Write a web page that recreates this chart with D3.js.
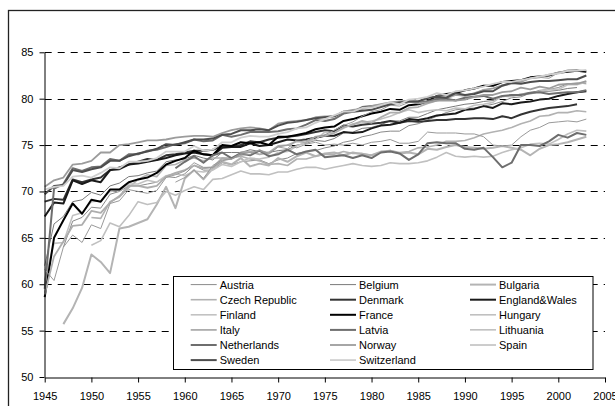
<!DOCTYPE html>
<html>
<head>
<meta charset="utf-8">
<script src="https://cdn.jsdelivr.net/npm/d3@7"></script>
<style>
  html, body { margin: 0; padding: 0; background: #fff; }
  svg { display: block; font-family: "Liberation Sans", Arial, Helvetica, sans-serif; }
</style>
</head>
<body>
<svg id="chart" width="615" height="406"></svg>
<script>
// ---------- data ----------
const countries = ["Austria","Belgium","Bulgaria","Czech Republic","Denmark","England&Wales",
  "Finland","France","Hungary","Italy","Latvia","Lithuania","Netherlands","Norway","Spain",
  "Sweden","Switzerland"];
const startYears = [1947,1945,1947,1950,1945,1945,1945,1945,1950,1945,1959,1959,1945,1945,1945,1945,1945];
const xTicks = [1945,1950,1955,1960,1965,1970,1975,1980,1985,1990,1995,2000,2005];
const yTicks = [50,55,60,65,70,75,80,85];

const austria = [64.0,66.8,67.2,68.3,68.2,69.7,70.0,70.6,70.6,70.8,71.0,71.6,71.5,71.9,72.8,72.3,72.3,73.1,72.9,73.2,73.3,73.4,73.0,73.4,73.6,74.1,74.3,74.4,74.7,74.9,75.3,75.5,75.9,76.1,76.4,76.5,76.5,77.1,77.3,77.7,78.1,78.5,78.8,78.9,79.0,79.2,79.4,79.7,80.1,80.2,80.6,80.9,81.0,81.2,81.6,81.7,81.6];
const belgium = [62.0,66.5,67.3,68.9,69.1,69.9,69.6,70.6,70.9,71.6,71.7,72.0,72.2,73.2,73.4,73.5,73.9,73.6,73.4,74.2,74.2,74.2,74.5,74.3,74.2,74.4,74.5,75.0,75.2,75.5,75.4,75.7,76.3,76.4,76.8,76.9,77.2,77.6,77.6,78.0,78.0,78.4,78.8,79.0,79.2,79.4,79.5,79.7,79.8,80.2,80.3,80.5,80.7,80.8,80.8,80.9,81.1,81.2];
const bulgaria = [55.7,57.4,59.6,63.2,62.4,61.2,66.0,66.2,66.6,67.0,68.6,70.5,68.2,71.4,72.3,71.3,72.5,73.2,72.9,73.6,72.7,73.0,72.8,73.6,73.2,73.8,74.2,73.8,74.1,74.2,73.9,74.2,74.0,73.9,74.3,74.4,74.1,74.2,74.0,74.6,74.5,74.8,75.0,74.8,74.7,74.6,74.7,74.9,74.7,74.5,73.9,74.6,75.0,75.1,75.3,75.6,75.9];
const czech = [67.2,67.1,68.9,69.4,70.4,71.3,71.8,71.6,72.8,72.9,73.4,73.6,73.3,73.6,73.6,73.6,73.8,73.5,73.3,72.9,73.0,72.8,73.5,73.5,73.8,74.0,74.0,74.3,74.1,74.1,73.9,74.2,74.4,74.2,74.3,74.7,74.8,75.0,75.4,75.4,75.5,75.8,76.2,76.4,76.6,76.9,77.3,77.6,78.1,78.2,78.5,78.5,78.7,78.6];
const denmark = [68.9,69.2,69.1,71.3,71.0,71.3,71.5,72.3,72.6,72.9,73.2,73.5,73.4,73.9,74.0,74.2,74.4,74.4,74.5,74.9,74.8,75.0,75.4,75.3,75.6,75.8,75.9,76.0,76.2,76.4,76.6,76.5,77.1,77.0,77.2,77.3,77.4,77.6,77.4,77.6,77.5,77.6,77.7,77.7,77.8,77.8,77.9,77.9,77.8,78.1,77.9,78.3,78.6,78.8,79.0,79.1,79.2,79.4];
const englandWales = [67.3,68.8,68.7,71.2,70.8,71.2,71.0,72.3,72.4,72.9,73.0,73.2,73.4,73.6,73.9,74.1,74.2,74.0,73.9,74.7,74.8,74.8,75.2,74.9,75.0,75.3,75.6,75.5,75.6,75.8,76.0,76.0,76.4,76.3,76.4,76.8,77.1,77.2,77.4,77.8,77.7,77.9,78.2,78.3,78.4,78.8,78.9,79.2,79.0,79.5,79.4,79.6,79.7,79.9,80.0,80.3,80.5,80.7,80.8];
const finland = [60.4,64.4,64.5,67.4,67.7,68.9,69.0,70.0,70.1,70.8,70.8,71.2,71.0,71.7,71.9,71.7,72.2,72.1,72.3,72.9,72.7,73.2,73.6,73.5,73.7,74.2,74.3,74.9,75.3,75.6,76.4,76.3,76.8,77.3,77.4,77.6,77.8,78.1,78.5,78.8,78.5,78.7,78.8,78.7,79.0,78.9,79.3,79.4,79.6,80.3,80.2,80.5,80.5,80.8,81.0,81.0,81.5,81.5,81.8];
const france = [58.6,65.0,66.9,68.7,67.6,69.1,68.9,70.2,70.2,71.0,71.3,71.5,72.0,72.9,73.3,73.6,74.4,74.0,73.9,75.0,74.9,75.3,75.2,75.3,75.0,75.9,75.9,76.1,76.3,76.7,76.9,77.0,77.6,77.8,78.1,78.4,78.6,78.9,78.8,79.3,79.4,79.7,80.3,80.5,80.6,80.9,81.1,81.4,81.4,81.8,81.9,82.0,82.3,82.4,82.5,82.8,82.9,83.0,82.9];
const hungary = [64.2,64.7,66.6,66.2,67.4,68.9,68.6,68.8,70.0,69.6,70.1,70.5,70.2,71.3,71.4,71.8,72.2,71.9,71.9,71.8,72.1,72.1,72.4,72.6,72.6,72.4,72.6,72.8,73.0,72.8,72.7,72.8,73.1,73.0,73.0,73.1,73.3,73.7,74.2,73.8,73.7,73.8,73.7,73.8,74.2,74.5,74.7,75.1,75.2,75.1,75.6,76.2,76.6,76.5];
const italy = [58.9,63.0,64.6,66.3,66.4,67.9,67.7,68.8,69.5,70.6,70.6,70.4,70.6,71.6,72.0,72.3,72.8,72.5,72.6,73.6,73.5,74.2,74.3,74.0,74.2,74.9,75.0,75.4,75.3,75.9,76.0,76.3,76.9,77.2,77.6,77.4,78.0,78.5,78.5,79.0,79.1,79.5,79.8,80.0,80.4,80.3,80.6,80.9,81.1,81.4,81.6,81.8,82.2,82.3,82.6,82.8,83.0,83.1];
const latvia = [72.5,73.2,73.8,73.1,73.9,74.2,73.6,74.1,73.9,74.4,73.8,74.0,74.5,74.0,74.3,74.5,73.7,73.8,73.9,73.6,73.9,73.6,74.2,74.3,74.1,73.4,74.0,75.2,75.3,75.2,75.2,74.6,74.5,74.7,73.7,72.6,73.1,75.0,75.0,74.9,75.4,76.1,75.8,76.3,76.1];
const lithuania = [71.0,71.5,72.3,71.4,72.8,73.4,73.5,73.9,74.0,74.5,74.1,74.8,75.0,74.7,75.1,75.3,75.0,75.1,75.0,75.2,75.0,75.3,75.4,75.6,75.2,75.2,75.4,76.4,76.3,76.3,76.3,76.2,76.2,75.9,75.0,74.9,75.0,75.9,76.6,76.9,77.4,77.5,77.6,77.5,77.8];
const netherlands = [59.5,70.3,70.8,72.5,72.2,72.6,72.7,73.5,73.3,74.0,74.0,74.4,74.5,74.8,75.1,75.2,75.6,75.4,75.5,76.1,75.9,76.1,76.4,76.4,76.4,76.5,76.7,76.8,77.2,77.7,77.6,77.8,78.4,78.6,79.1,79.2,79.3,79.4,79.6,79.7,79.7,79.7,80.0,80.0,79.8,80.1,80.2,80.3,80.0,80.3,80.4,80.4,80.6,80.7,80.5,80.6,80.7,80.7,80.9];
const norway = [70.5,71.2,71.5,72.9,73.0,73.3,74.2,74.2,75.0,75.1,75.3,75.5,75.5,75.6,75.8,75.9,76.0,76.0,75.9,76.3,76.6,76.8,76.9,76.8,76.6,77.3,77.5,77.6,77.7,78.0,78.1,78.1,78.6,78.8,78.9,79.2,79.4,79.6,79.7,79.8,79.5,79.6,79.8,79.8,79.8,79.9,80.2,80.4,80.4,80.7,80.8,81.2,81.0,81.3,81.1,81.5,81.6,81.6,81.9];
const spain = [61.6,60.4,64.0,65.3,64.5,66.4,66.0,68.7,69.0,70.2,70.0,69.8,70.1,71.5,71.8,72.2,73.1,72.6,72.6,73.3,73.5,74.1,74.2,74.4,74.0,74.8,74.6,75.6,75.5,75.9,76.1,76.6,77.1,77.5,78.1,78.6,78.8,79.3,79.2,79.6,79.6,80.0,80.3,80.3,80.4,80.4,80.6,81.0,81.1,81.5,81.7,81.8,82.2,82.3,82.2,82.8,83.1,83.1,83.0];
const sweden = [69.7,70.6,70.7,72.3,72.1,72.4,72.6,73.3,73.3,73.8,74.1,74.3,74.6,75.1,75.0,75.3,75.6,75.6,75.7,76.1,76.2,76.6,76.6,76.7,76.6,77.1,77.4,77.5,77.7,77.9,78.0,78.1,78.6,78.6,78.7,78.8,79.1,79.4,79.6,79.7,79.7,80.1,80.2,80.1,80.6,80.4,80.5,80.8,80.8,81.4,81.7,81.6,81.8,81.9,81.9,82.0,82.1,82.1,82.5];
const switzerland = [70.2,70.5,70.6,71.6,71.7,71.5,72.0,72.6,72.5,73.2,73.2,73.3,73.6,74.3,74.3,74.3,74.9,74.4,74.5,75.3,75.3,75.8,76.0,75.9,75.9,76.2,76.4,76.8,76.9,77.4,77.8,78.2,78.6,78.6,79.0,79.0,79.3,79.6,79.4,79.9,80.0,80.2,80.6,80.4,80.8,80.9,81.1,81.3,81.6,81.8,81.8,82.0,82.2,82.4,82.6,82.7,83.0,83.0,83.1];

const seriesValues = [austria,belgium,bulgaria,czech,denmark,englandWales,finland,france,hungary,
  italy,latvia,lithuania,netherlands,norway,spain,sweden,switzerland];

// ---------- styles ----------
const lineColors = ["#8a8a8a","#7a7a7a","#b4b4b4","#b2b2b2","#333333","#1a1a1a","#c2c2c2","#000000",
  "#c0c0c0","#adadad","#6e6e6e","#9a9a9a","#6e6e6e","#9c9c9c","#9a9a9a","#4d4d4d","#cfcfcf"];
const lineWidths = [1,1,2,1.6,2,2,1.6,2,1.6,1.8,2,1,2,1.8,1,2,1.8];

// ---------- drawing ----------
const svg = d3.select("#chart");
const x = d3.scaleLinear().domain([1945, 2005]).range([44.7, 605]);
const y = d3.scaleLinear().domain([50, 85]).range([377, 52.3]);

// outer frame
svg.append("rect").attr("x", 8.5).attr("y", 10.5).attr("width", 700).attr("height", 500)
  .attr("fill", "none").attr("stroke", "#222").attr("stroke-width", 1.3);

// gridlines
svg.append("g").selectAll("line").data(yTicks.filter(v => v > 50)).join("line")
  .attr("x1", x(1945)).attr("x2", x(2005))
  .attr("y1", d => Math.round(y(d)) + 0.5).attr("y2", d => Math.round(y(d)) + 0.5)
  .attr("stroke", "#000").attr("stroke-width", 1).attr("stroke-dasharray", "7,6");

// series
const line = d3.line().x(d => x(d[0])).y(d => y(d[1]));
const series = countries.map((name, i) => ({
  name,
  pts: seriesValues[i].map((v, k) => [startYears[i] + k, v]),
  color: lineColors[i],
  width: lineWidths[i]
}));
svg.append("g").selectAll("path").data(series).join("path")
  .attr("d", d => line(d.pts))
  .attr("fill", "none").attr("stroke", d => d.color).attr("stroke-width", d => d.width)
  .attr("stroke-linejoin", "round");

// axes
const yAxis = d3.axisLeft(y).tickValues(yTicks).tickSize(5).tickSizeOuter(0).tickPadding(6);
const xAxis = d3.axisBottom(x).tickValues(xTicks).tickFormat(d3.format("d")).tickSize(5).tickSizeOuter(0).tickPadding(10);
const gy = svg.append("g").attr("transform", "translate(44.5,0)").call(yAxis);
const gx = svg.append("g").attr("transform", "translate(0,377.5)").call(xAxis);
[gy, gx].forEach(g => {
  g.selectAll("path,line").attr("stroke", "#000");
  g.selectAll("text").attr("font-size", 11).attr("fill", "#000")
    .attr("font-family", "'Liberation Sans', Arial, sans-serif");
});

// legend
const legend = svg.append("g");
legend.append("rect").attr("x", 173.5).attr("y", 276.5).attr("width", 419.5).attr("height", 93)
  .attr("fill", "#fff").attr("stroke", "#000").attr("stroke-width", 1);
const colX = [190.7, 330, 470];
const items = legend.selectAll("g.item").data(series).join("g").attr("class", "item")
  .attr("transform", (d, i) => `translate(${colX[i % 3]},${284.6 + Math.floor(i / 3) * 15.1})`);
items.append("line").attr("x1", 0).attr("x2", 26).attr("y1", 0).attr("y2", 0)
  .attr("stroke", d => d.color).attr("stroke-width", d => d.width);
items.append("text").attr("x", 29).attr("y", 4).attr("font-size", 11).attr("fill", "#000")
  .text(d => d.name);
</script>
</body>
</html>
